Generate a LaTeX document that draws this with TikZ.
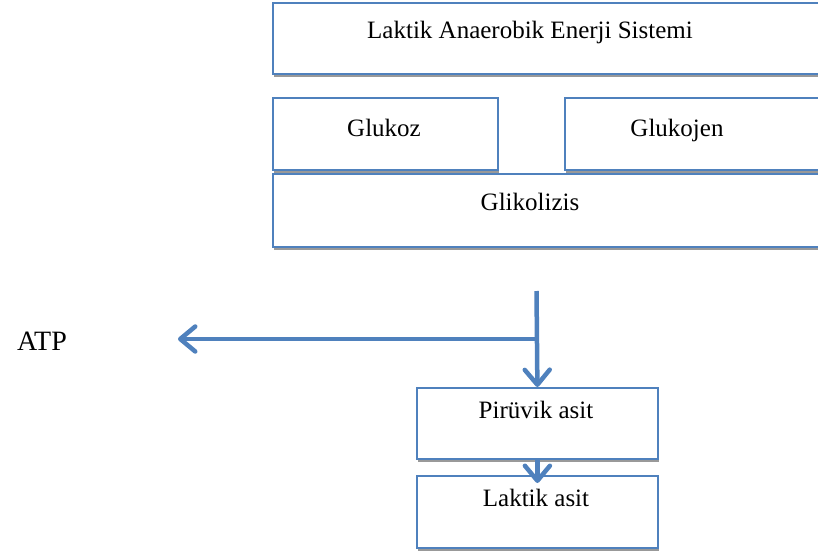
\documentclass[tikz,border=0pt]{standalone}
\usepackage{fontspec}
\setmainfont{Liberation Serif}
\usetikzlibrary{arrows.meta, shadows}
\definecolor{officeblue}{RGB}{79,129,189}

\begin{document}
\begin{tikzpicture}[x=1pt,y=-1pt]
    \tikzstyle{box}=[draw=officeblue, line width=1.8pt, fill=white, rectangle, anchor=north west, inner sep=0pt,
        drop shadow={shadow xshift=1pt, shadow yshift=-3pt, fill=black!40, opacity=1}]
    \tikzstyle{label}=[font=\fontsize{25}{28}\selectfont, anchor=base, inner sep=0pt]
    \tikzstyle{flow}=[draw=officeblue, line width=4.5pt, -{Straight Barb[length=15pt,width=25pt,round]}]

    \useasboundingbox (0,0) rectangle (818,551);
    \clip (0,0) rectangle (818,551);

    % boxes
    \node[box, minimum width=560, minimum height=71] (sys) at (272,2) {};
    \node[box, minimum width=225, minimum height=72] (glukoz) at (272,97) {};
    \node[box, minimum width=270, minimum height=72] (glukojen) at (564,97) {};
    \node[box, minimum width=560, minimum height=73] (glik) at (272,173) {};
    \node[box, minimum width=241, minimum height=71] (piruvik) at (416,387) {};
    \node[box, minimum width=241, minimum height=72] (laktik) at (416,475) {};

    % texts
    \node[label] (sys-t) at (530,38) {Laktik Anaerobik Enerji Sistemi};
    \node[label] (glukoz-t) at (384,136) {Glukoz};
    \node[label] (glukojen-t) at (677,136) {Glukojen};
    \node[label] (glik-t) at (530,210) {Glikolizis};
    \node[label] (piruvik-t) at (536,418) {Pirüvik asit};
    \node[label] (laktik-t) at (536,506) {Laktik asit};
    \node[label, font=\fontsize{28}{32}\selectfont] (atp) at (42,350) {ATP};

    % arrows
    \coordinate (src) at (536.5,291);
    \coordinate (split) at (536.5,339);
    \coordinate (atptip) at (178,339);
    \draw[flow] (src) -- (piruvik.north);
    \draw[flow] (split) -- (atptip);
    \draw[flow] (piruvik.south) -- ([yshift=-8pt]laktik.north);
\end{tikzpicture}
\end{document}
